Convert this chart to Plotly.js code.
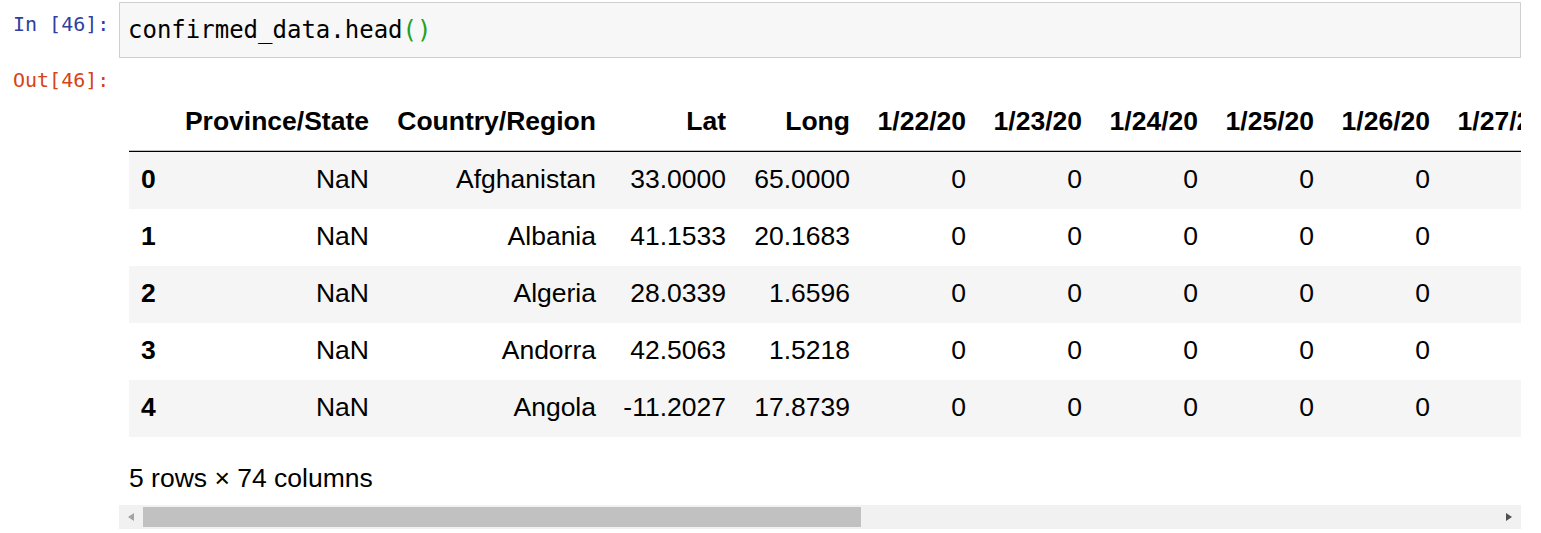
<!DOCTYPE html>
<html>
<head>
<meta charset="utf-8">
<script src="https://cdn.plot.ly/plotly-3.0.1.min.js"></script>
<style>body{margin:0;background:#fff}#plot{width:1541px;height:533px}</style>
</head>
<body>
<div id="plot"></div>
<script>
// table contents
const columns = ['Province/State', 'Country/Region', 'Lat', 'Long', '1/22/20', '1/23/20', '1/24/20', '1/25/20', '1/26/20', '1/27/20'];
const rowIndex = ['0', '1', '2', '3', '4'];
const province = ['NaN', 'NaN', 'NaN', 'NaN', 'NaN'];
const country = ['Afghanistan', 'Albania', 'Algeria', 'Andorra', 'Angola'];
const lat = ['33.0000', '41.1533', '28.0339', '42.5063', '-11.2027'];
const longs = ['65.0000', '20.1683', '1.6596', '1.5218', '17.8739'];
const d0122 = [0, 0, 0, 0, 0];
const d0123 = [0, 0, 0, 0, 0];
const d0124 = [0, 0, 0, 0, 0];
const d0125 = [0, 0, 0, 0, 0];
const d0126 = [0, 0, 0, 0, 0];
const d0127 = ['', '', '', '', ''];

// layout geometry (pixels)
const colRight = [369, 596, 726, 850, 966, 1082, 1198, 1314, 1430, 1546];
const rowY = i => 181 + 57 * i;
const font = 'Liberation Sans, Arial, sans-serif';
const fs = 26.5;

const cellCols = [province, country, lat, longs, d0122, d0123, d0124, d0125, d0126, d0127];
const traces = [];

// header
traces.push({
  x: colRight, y: columns.map(() => 123), text: columns.map(c => '<b>' + c + '</b>'),
  mode: 'text', type: 'scatter', textposition: 'middle left',
  textfont: {family: font, size: fs, color: '#000'}, hoverinfo: 'skip'
});
// index
traces.push({
  x: rowIndex.map(() => 141), y: rowIndex.map((r, i) => rowY(i)), text: rowIndex.map(r => '<b>' + r + '</b>'),
  mode: 'text', type: 'scatter', textposition: 'middle right',
  textfont: {family: font, size: fs, color: '#000'}, hoverinfo: 'skip'
});
// cells
cellCols.forEach((col, c) => {
  traces.push({
    x: col.map(() => colRight[c]), y: col.map((v, i) => rowY(i)), text: col.map(String),
    mode: 'text', type: 'scatter', textposition: 'middle left',
    textfont: {family: font, size: fs, color: '#000'}, hoverinfo: 'skip'
  });
});

const shapes = [
  // code cell
  {type: 'rect', x0: 119.5, x1: 1520.5, y0: 2.5, y1: 57.5, fillcolor: '#f7f7f7', line: {color: '#cfcfcf', width: 1}, layer: 'below'},
  // header rule
  {type: 'line', x0: 129, x1: 1521, y0: 151.5, y1: 151.5, line: {color: '#000', width: 1.3}, layer: 'below'}
];
rowIndex.forEach((r, i) => {
  if (i % 2 === 0) shapes.push({type: 'rect', x0: 129, x1: 1521, y0: 152 + 57 * i, y1: 209 + 57 * i, fillcolor: '#f5f5f5', line: {width: 0}, layer: 'below'});
});
// clip the overflowing column
shapes.push({type: 'rect', x0: 1521, x1: 1541, y0: 90, y1: 500, fillcolor: '#fff', line: {width: 0}, layer: 'above'});
// scrollbar
shapes.push({type: 'rect', x0: 119, x1: 1521, y0: 505, y1: 529, fillcolor: '#f1f1f1', line: {width: 0}, layer: 'above'});
shapes.push({type: 'rect', x0: 143, x1: 861, y0: 507, y1: 527, fillcolor: '#c1c1c1', line: {width: 0}, layer: 'above'});
shapes.push({type: 'path', path: 'M 1506 513 L 1512 517 L 1506 521 Z', fillcolor: '#505050', line: {width: 0}, layer: 'above'});
shapes.push({type: 'path', path: 'M 134 513 L 128 517 L 134 521 Z', fillcolor: '#a3a3a3', line: {width: 0}, layer: 'above'});

const annotations = [
  {x: 111, y: 24, text: 'In [46]:', xanchor: 'right', yanchor: 'middle', showarrow: false,
   font: {family: 'DejaVu Sans Mono, monospace', size: 20, color: '#303F9F'}},
  {x: 111, y: 80, text: 'Out[46]:', xanchor: 'right', yanchor: 'middle', showarrow: false,
   font: {family: 'DejaVu Sans Mono, monospace', size: 20, color: '#D84315'}},
  {x: 126, y: 30, text: 'confirmed_data.head<span style="color:#22a022">()</span>', xanchor: 'left', yanchor: 'middle', showarrow: false,
   font: {family: 'DejaVu Sans Mono, monospace', size: 24, color: '#000'}},
  {x: 127, y: 478, text: '5 rows × 74 columns', xanchor: 'left', yanchor: 'middle', showarrow: false,
   font: {family: font, size: fs, color: '#000'}}
];

const layout = {
  width: 1541, height: 533,
  margin: {l: 0, r: 0, t: 0, b: 0},
  paper_bgcolor: '#fff', plot_bgcolor: '#fff',
  showlegend: false,
  xaxis: {range: [0, 1541], visible: false, fixedrange: true},
  yaxis: {range: [533, 0], visible: false, fixedrange: true},
  shapes: shapes,
  annotations: annotations
};

Plotly.newPlot('plot', traces, layout, {displayModeBar: false, staticPlot: true});
</script>
</body>
</html>
